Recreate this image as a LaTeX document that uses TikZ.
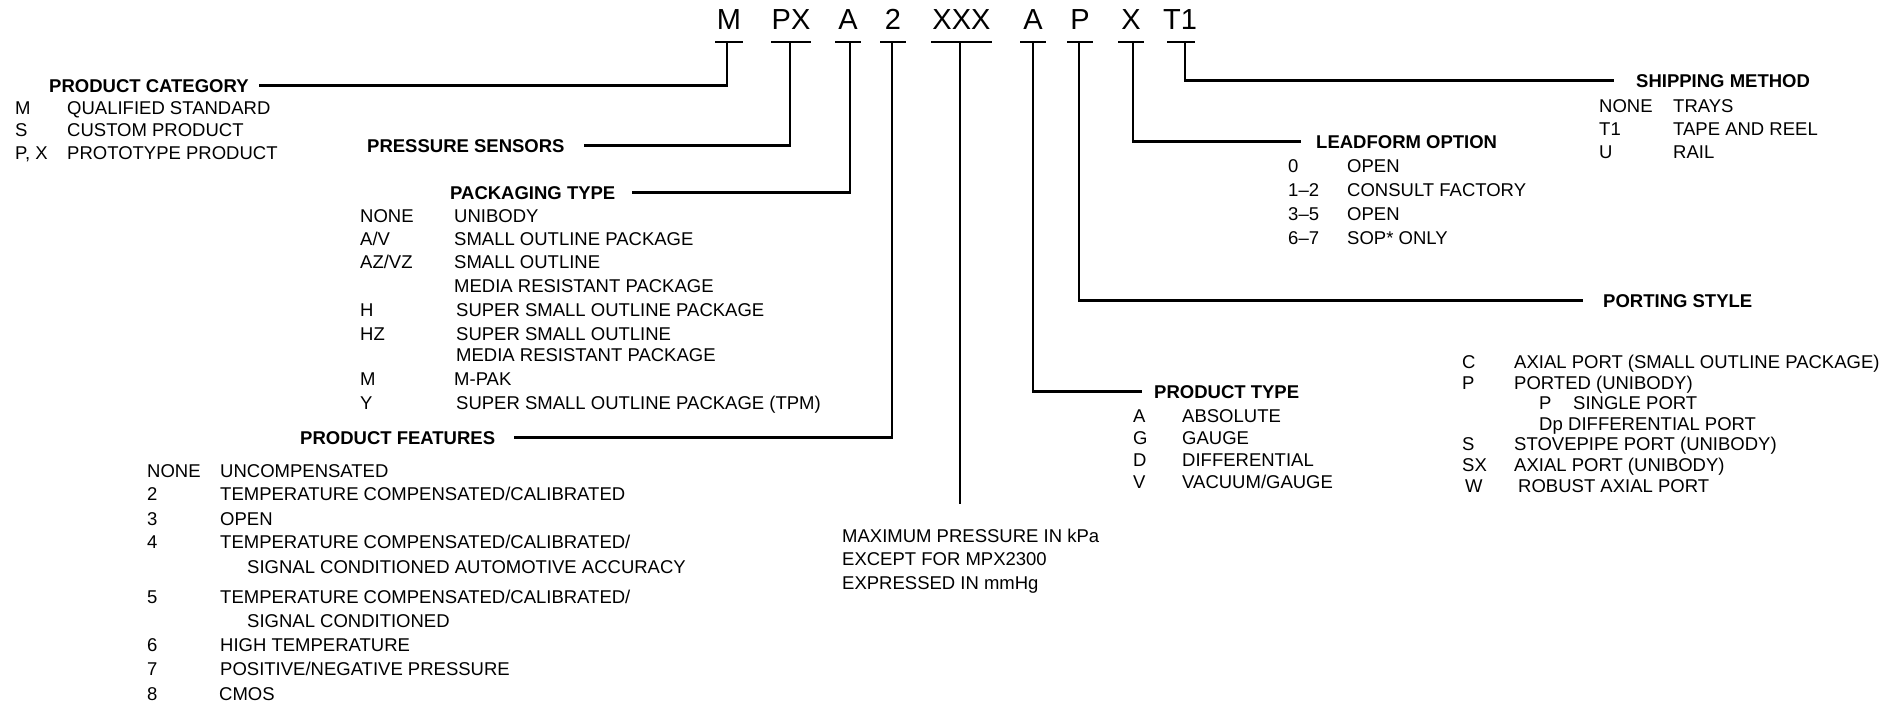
\documentclass[tikz,border=0pt]{standalone}
\usepackage{fontspec}
\setmainfont{Liberation Sans}
\begin{document}
\begin{tikzpicture}[x=1pt,y=-1pt,
  txt/.style={anchor=base west, inner sep=0pt, font=\fontsize{18.5}{22}\selectfont},
  head/.style={anchor=base west, inner sep=0pt, text height=13.2pt, text depth=0pt, font=\fontsize{18.5}{22}\selectfont\bfseries},
  code/.style={anchor=base, inner sep=0pt, font=\fontsize{29}{30}\selectfont},
  conn/.style={line width=2.8pt},
]
\useasboundingbox (0,0) rectangle (1902,707);

% ---- part number ----
\node[code] (cM)   at (729,29.5)  {M};
\node[code] (cPX)  at (791,29.5)  {PX};
\node[code] (cA)   at (848,29.5)  {A};
\node[code] (c2)   at (893,29.5)  {2};
\node[code] (cXXX) at (961.5,29.5){XXX};
\node[code] (cA2)  at (1033,29.5) {A};
\node[code] (cP)   at (1080,29.5) {P};
\node[code] (cX)   at (1131,29.5) {X};
\node[code] (cT)   at (1180,29.5) {T1};

\coordinate (uM)   at (727,42);
\coordinate (uPX)  at (790,42);
\coordinate (uA)   at (850,42);
\coordinate (u2)   at (892,42);
\coordinate (uXXX) at (960,42);
\coordinate (uA2)  at (1033,42);
\coordinate (uP)   at (1079,42);
\coordinate (uX)   at (1133,42);
\coordinate (uT)   at (1185,42);

\draw[conn] ([xshift=-12pt]uM)   -- ([xshift=16pt]uM);
\draw[conn] ([xshift=-19pt]uPX)  -- ([xshift=21pt]uPX);
\draw[conn] ([xshift=-15pt]uA)   -- ([xshift=11pt]uA);
\draw[conn] ([xshift=-12pt]u2)   -- ([xshift=14pt]u2);
\draw[conn] ([xshift=-29pt]uXXX) -- ([xshift=32pt]uXXX);
\draw[conn] ([xshift=-13pt]uA2)  -- ([xshift=13pt]uA2);
\draw[conn] ([xshift=-12pt]uP)   -- ([xshift=14pt]uP);
\draw[conn] ([xshift=-15pt]uX)   -- ([xshift=11pt]uX);
\draw[conn] ([xshift=-18pt]uT)   -- ([xshift=10pt]uT);

% ---- product category ----
\node[head] (hCat) at (49,92) {PRODUCT CATEGORY};
\node[txt] (cat1c) at (15,114) {M};    \node[txt] (cat1d) at (67,114) {QUALIFIED STANDARD};
\node[txt] (cat2c) at (15,136) {S};    \node[txt] (cat2d) at (67,136) {CUSTOM PRODUCT};
\node[txt] (cat3c) at (15,159) {P, X}; \node[txt] (cat3d) at (67,159) {PROTOTYPE PRODUCT};

% ---- pressure sensors ----
\node[head] (hPress) at (367,152) {PRESSURE SENSORS};

% ---- packaging type ----
\node[head] (hPack) at (450,199) {PACKAGING TYPE};
\node[txt] (pk1c) at (360,222) {NONE};  \node[txt] (pk1d) at (454,222) {UNIBODY};
\node[txt] (pk2c) at (360,245) {A/V};   \node[txt] (pk2d) at (454,245) {SMALL OUTLINE PACKAGE};
\node[txt] (pk3c) at (360,268) {AZ/VZ}; \node[txt] (pk3d) at (454,268) {SMALL OUTLINE};
                                        \node[txt] (pk4d) at (454,292) {MEDIA RESISTANT PACKAGE};
\node[txt] (pk5c) at (360,316) {H};     \node[txt] (pk5d) at (456,316) {SUPER SMALL OUTLINE PACKAGE};
\node[txt] (pk6c) at (360,340) {HZ};    \node[txt] (pk6d) at (456,340) {SUPER SMALL OUTLINE};
                                        \node[txt] (pk7d) at (456,361) {MEDIA RESISTANT PACKAGE};
\node[txt] (pk8c) at (360,385) {M};     \node[txt] (pk8d) at (454,385) {M-PAK};
\node[txt] (pk9c) at (360,409) {Y};     \node[txt] (pk9d) at (456,409) {SUPER SMALL OUTLINE PACKAGE (TPM)};

% ---- product features ----
\node[head] (hFeat) at (300,444) {PRODUCT FEATURES};
\node[txt] (f1c) at (147,477) {NONE}; \node[txt] (f1d) at (220,477) {UNCOMPENSATED};
\node[txt] (f2c) at (147,500) {2};    \node[txt] (f2d) at (220,500) {TEMPERATURE COMPENSATED/CALIBRATED};
\node[txt] (f3c) at (147,525) {3};    \node[txt] (f3d) at (220,525) {OPEN};
\node[txt] (f4c) at (147,548) {4};    \node[txt] (f4d) at (220,548) {TEMPERATURE COMPENSATED/CALIBRATED/};
                                      \node[txt] (f4e) at (247,573) {SIGNAL CONDITIONED AUTOMOTIVE ACCURACY};
\node[txt] (f5c) at (147,603) {5};    \node[txt] (f5d) at (220,603) {TEMPERATURE COMPENSATED/CALIBRATED/};
                                      \node[txt] (f5e) at (247,627) {SIGNAL CONDITIONED};
\node[txt] (f6c) at (147,651) {6};    \node[txt] (f6d) at (220,651) {HIGH TEMPERATURE};
\node[txt] (f7c) at (147,675) {7};    \node[txt] (f7d) at (220,675) {POSITIVE/NEGATIVE PRESSURE};
\node[txt] (f8c) at (147,700) {8};    \node[txt] (f8d) at (219,700) {CMOS};

% ---- maximum pressure ----
\coordinate (eXXX) at (960,504);
\node[txt] (mx1) at (842,542) {MAXIMUM PRESSURE IN kPa};
\node[txt] (mx2) at (842,565) {EXCEPT FOR MPX2300};
\node[txt] (mx3) at (842,589) {EXPRESSED IN mmHg};

% ---- product type ----
\node[head] (hType) at (1154,398) {PRODUCT TYPE};
\node[txt] (t1c) at (1133,422) {A}; \node[txt] (t1d) at (1182,422) {ABSOLUTE};
\node[txt] (t2c) at (1133,444) {G}; \node[txt] (t2d) at (1182,444) {GAUGE};
\node[txt] (t3c) at (1133,466) {D}; \node[txt] (t3d) at (1182,466) {DIFFERENTIAL};
\node[txt] (t4c) at (1133,488) {V}; \node[txt] (t4d) at (1182,488) {VACUUM/GAUGE};

% ---- porting style ----
\node[head] (hPort) at (1603,307) {PORTING STYLE};
\node[txt] (p1c) at (1462,368) {C};  \node[txt] (p1d) at (1514,368) {AXIAL PORT (SMALL OUTLINE PACKAGE)};
\node[txt] (p2c) at (1462,389) {P};  \node[txt] (p2d) at (1514,389) {PORTED (UNIBODY)};
\node[txt] (p3c) at (1539,409) {P};  \node[txt] (p3d) at (1573,409) {SINGLE PORT};
\node[txt] (p4c) at (1539,430) {Dp}; \node[txt] (p4d) at (1568,430) {DIFFERENTIAL PORT};
\node[txt] (p5c) at (1462,450) {S};  \node[txt] (p5d) at (1514,450) {STOVEPIPE PORT (UNIBODY)};
\node[txt] (p6c) at (1462,471) {SX}; \node[txt] (p6d) at (1514,471) {AXIAL PORT (UNIBODY)};
\node[txt] (p7c) at (1465,492) {W};  \node[txt] (p7d) at (1518,492) {ROBUST AXIAL PORT};

% ---- leadform option ----
\node[head] (hLead) at (1316,148) {LEADFORM OPTION};
\node[txt] (l1c) at (1288,172) {0};   \node[txt] (l1d) at (1347,172) {OPEN};
\node[txt] (l2c) at (1288,196) {1–2}; \node[txt] (l2d) at (1347,196) {CONSULT FACTORY};
\node[txt] (l3c) at (1288,220) {3–5}; \node[txt] (l3d) at (1347,220) {OPEN};
\node[txt] (l4c) at (1288,244) {6–7}; \node[txt] (l4d) at (1347,244) {SOP* ONLY};

% ---- shipping method ----
\node[head] (hShip) at (1636,87) {SHIPPING METHOD};
\node[txt] (s1c) at (1599,112) {NONE}; \node[txt] (s1d) at (1673,112) {TRAYS};
\node[txt] (s2c) at (1599,135) {T1};   \node[txt] (s2d) at (1673,135) {TAPE AND REEL};
\node[txt] (s3c) at (1599,158) {U};    \node[txt] (s3d) at (1673,158) {RAIL};

% ---- connectors ----
\draw[conn] (uM)   |- ([xshift=10pt]hCat.east);
\draw[conn] (uPX)  |- ([xshift=19pt]hPress.east);
\draw[conn] (uA)   |- ([xshift=16pt]hPack.east);
\draw[conn] (u2)   |- ([xshift=19pt]hFeat.east);
\draw[conn] (uXXX) -- (eXXX);
\draw[conn] (uA2)  |- ([xshift=-12pt]hType.west);
\draw[conn] (uP)   |- ([xshift=-20pt]hPort.west);
\draw[conn] (uX)   |- ([xshift=-15pt]hLead.west);
\draw[conn] (uT)   |- ([xshift=-22pt]hShip.west);
\end{tikzpicture}
\end{document}
